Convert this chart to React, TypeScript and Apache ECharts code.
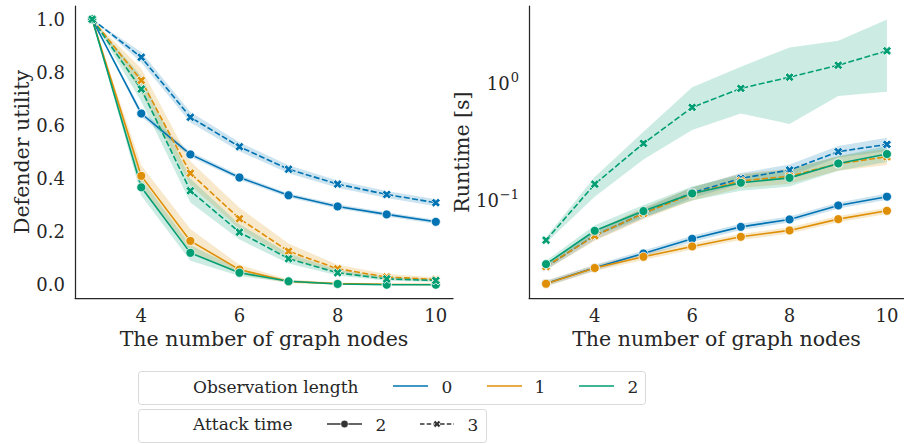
import React, { useEffect, useRef } from 'react';
import * as echarts from 'echarts';

// ---------- data ----------
const nodes = [3, 4, 5, 6, 7, 8, 9, 10];
const obsLengths = ['0', '1', '2'];
const attackTimes = ['2', '3'];
const xTicks = [4, 6, 8, 10];
const utilTicks = [0, 0.2, 0.4, 0.6, 0.8, 1.0];

// Defender utility (left) : mean / lower / upper
const util_o0_a2 = [1, 0.645, 0.491, 0.404, 0.337, 0.295, 0.265, 0.237];
const util_o0_a2_lo = [1, 0.633, 0.481, 0.395, 0.329, 0.287, 0.257, 0.229];
const util_o0_a2_hi = [1, 0.657, 0.501, 0.413, 0.345, 0.303, 0.273, 0.245];
const util_o0_a3 = [1, 0.857, 0.631, 0.52, 0.435, 0.379, 0.34, 0.309];
const util_o0_a3_lo = [1, 0.837, 0.611, 0.503, 0.42, 0.365, 0.327, 0.296];
const util_o0_a3_hi = [1, 0.877, 0.651, 0.537, 0.45, 0.393, 0.353, 0.322];
const util_o1_a2 = [1, 0.41, 0.165, 0.057, 0.012, 0.004, 0.002, 0.001];
const util_o1_a2_lo = [1, 0.37, 0.125, 0.04, 0.006, 0.001, 0, 0];
const util_o1_a2_hi = [1, 0.45, 0.21, 0.075, 0.02, 0.008, 0.005, 0.003];
const util_o1_a3 = [1, 0.77, 0.42, 0.249, 0.126, 0.06, 0.029, 0.02];
const util_o1_a3_lo = [1, 0.725, 0.375, 0.21, 0.1, 0.045, 0.02, 0.013];
const util_o1_a3_hi = [1, 0.815, 0.465, 0.29, 0.155, 0.075, 0.04, 0.028];
const util_o2_a2 = [1, 0.367, 0.12, 0.045, 0.013, 0.003, 0.0, 0.0];
const util_o2_a2_lo = [1, 0.335, 0.09, 0.033, 0.008, 0.001, 0, 0];
const util_o2_a2_hi = [1, 0.4, 0.15, 0.058, 0.018, 0.006, 0.002, 0.001];
const util_o2_a3 = [1, 0.737, 0.354, 0.198, 0.098, 0.045, 0.022, 0.016];
const util_o2_a3_lo = [1, 0.69, 0.31, 0.17, 0.08, 0.035, 0.015, 0.01];
const util_o2_a3_hi = [1, 0.785, 0.4, 0.228, 0.118, 0.056, 0.03, 0.022];

// Runtime [s] (right) : mean / lower / upper
const rt_o0_a2 = [0.0193, 0.0263, 0.0349, 0.0466, 0.059, 0.0683, 0.09, 0.107];
const rt_o0_a2_lo = [0.0183, 0.0248, 0.0328, 0.0438, 0.0555, 0.0643, 0.0848, 0.1005];
const rt_o0_a2_hi = [0.0204, 0.0279, 0.037, 0.0495, 0.0627, 0.0725, 0.0955, 0.1138];
const rt_o1_a2 = [0.0192, 0.0262, 0.0327, 0.0401, 0.0485, 0.055, 0.0687, 0.081];
const rt_o1_a2_lo = [0.0182, 0.0247, 0.0307, 0.0377, 0.0456, 0.0517, 0.0646, 0.0761];
const rt_o1_a2_hi = [0.0203, 0.0278, 0.0348, 0.0426, 0.0515, 0.0585, 0.073, 0.0862];
const rt_o2_a2 = [0.0283, 0.0546, 0.0805, 0.114, 0.1407, 0.155, 0.206, 0.248];
const rt_o2_a2_lo = [0.0265, 0.049, 0.071, 0.099, 0.12, 0.131, 0.178, 0.212];
const rt_o2_a2_hi = [0.0302, 0.061, 0.091, 0.131, 0.165, 0.183, 0.238, 0.29];
const rt_o0_a3 = [0.0268, 0.0498, 0.0769, 0.1156, 0.1535, 0.181, 0.26, 0.3];
const rt_o0_a3_lo = [0.0252, 0.0455, 0.07, 0.104, 0.138, 0.162, 0.232, 0.262];
const rt_o0_a3_hi = [0.0285, 0.0545, 0.0845, 0.128, 0.171, 0.202, 0.29, 0.342];
const rt_o1_a3 = [0.027, 0.0495, 0.077, 0.113, 0.146, 0.16, 0.205, 0.235];
const rt_o1_a3_lo = [0.0253, 0.0448, 0.0685, 0.099, 0.127, 0.138, 0.178, 0.2];
const rt_o1_a3_hi = [0.0288, 0.0545, 0.0865, 0.129, 0.168, 0.186, 0.237, 0.276];
const rt_o2_a3 = [0.0454, 0.137, 0.306, 0.623, 0.906, 1.13, 1.43, 1.9];
const rt_o2_a3_lo = [0.043, 0.107, 0.223, 0.398, 0.553, 0.448, 0.778, 0.848];
const rt_o2_a3_hi = [0.048, 0.158, 0.385, 0.924, 1.39, 2.03, 2.32, 3.53];

// ---------- style ----------
const colors = ['#0173b2', '#de8f05', '#029e73'];
const ink = '#262626';
const FONT = 'DejaVu Serif';
const X_PATH = 'path://M2.6,0 L5,2.4 L7.4,0 L10,2.6 L7.6,5 L10,7.4 L7.4,10 L5,7.6 L2.6,10 L0,7.4 L2.4,5 L0,2.6 Z';

function rgba(hex: string, a: number) {
  const n = parseInt(hex.slice(1), 16);
  return `rgba(${(n >> 16) & 255},${(n >> 8) & 255},${n & 255},${a})`;
}

type Group = { obs: number; att: number; mean: number[]; lo: number[]; hi: number[] };

const utilGroups: Group[] = [
  { obs: 0, att: 0, mean: util_o0_a2, lo: util_o0_a2_lo, hi: util_o0_a2_hi },
  { obs: 0, att: 1, mean: util_o0_a3, lo: util_o0_a3_lo, hi: util_o0_a3_hi },
  { obs: 1, att: 0, mean: util_o1_a2, lo: util_o1_a2_lo, hi: util_o1_a2_hi },
  { obs: 1, att: 1, mean: util_o1_a3, lo: util_o1_a3_lo, hi: util_o1_a3_hi },
  { obs: 2, att: 0, mean: util_o2_a2, lo: util_o2_a2_lo, hi: util_o2_a2_hi },
  { obs: 2, att: 1, mean: util_o2_a3, lo: util_o2_a3_lo, hi: util_o2_a3_hi },
];
const rtGroups: Group[] = [
  { obs: 0, att: 0, mean: rt_o0_a2, lo: rt_o0_a2_lo, hi: rt_o0_a2_hi },
  { obs: 0, att: 1, mean: rt_o0_a3, lo: rt_o0_a3_lo, hi: rt_o0_a3_hi },
  { obs: 1, att: 0, mean: rt_o1_a2, lo: rt_o1_a2_lo, hi: rt_o1_a2_hi },
  { obs: 1, att: 1, mean: rt_o1_a3, lo: rt_o1_a3_lo, hi: rt_o1_a3_hi },
  { obs: 2, att: 0, mean: rt_o2_a2, lo: rt_o2_a2_lo, hi: rt_o2_a2_hi },
  { obs: 2, att: 1, mean: rt_o2_a3, lo: rt_o2_a3_lo, hi: rt_o2_a3_hi },
];

function buildSeries(groups: Group[], gi: number) {
  const out: any[] = [];
  groups.forEach((g) => {
    const color = colors[g.obs];
    out.push({
      type: 'custom',
      xAxisIndex: gi,
      yAxisIndex: gi,
      silent: true,
      data: nodes.map((x, i) => [x, g.lo[i], g.hi[i]]),
      encode: { x: 0, y: [1, 2] },
      renderItem: (params: any, api: any) => {
        if (params.dataIndex !== 0) return null;
        const upper = nodes.map((x, i) => api.coord([x, g.hi[i]]));
        const lower = nodes.map((x, i) => api.coord([x, g.lo[i]])).reverse();
        return {
          type: 'polygon',
          shape: { points: upper.concat(lower) },
          style: { fill: rgba(color, 0.2), stroke: 'none' },
          silent: true,
        };
      },
    });
    out.push({
      type: 'line',
      name: `${obsLengths[g.obs]}-${attackTimes[g.att]}`,
      xAxisIndex: gi,
      yAxisIndex: gi,
      data: nodes.map((x, i) => [x, g.mean[i]]),
      symbol: g.att === 0 ? 'circle' : X_PATH,
      symbolSize: g.att === 0 ? 9 : 9,
      showSymbol: true,
      lineStyle: { color, width: 1.6, type: g.att === 0 ? 'solid' : [6, 2.4] },
      itemStyle: { color, borderColor: '#ffffff', borderWidth: 0.8 },
      silent: true,
    });
  });
  return out;
}

const tickFont = { fontFamily: FONT, fontSize: 18, color: ink };
const nameFont = { fontFamily: FONT, fontSize: 20.5, color: ink };

function xAxis(gi: number) {
  return {
    type: 'value',
    gridIndex: gi,
    min: 2.65,
    max: 10.35,
    name: 'The number of graph nodes',
    nameLocation: 'middle',
    nameGap: 29,
    nameTextStyle: nameFont,
    axisLine: { show: true, onZero: false, lineStyle: { color: ink, width: 1.25 } },
    axisTick: { show: false },
    splitLine: { show: false },
    axisLabel: { ...tickFont, margin: 8, customValues: xTicks, formatter: (v: number) => String(v) },
  };
}

function supExp(e: number) {
  return e < 0 ? '\u2212' + String(-e) : String(e);
}

export default function App() {
  const ref = useRef<HTMLDivElement>(null);
  useEffect(() => {
    if (!ref.current) return;
    const chart = echarts.init(ref.current, undefined, { renderer: 'svg' });

    const legendText = { fontFamily: FONT, fontSize: 17, fill: ink };
    const graphics: any[] = [
      { type: 'rect', shape: { x: 138.5, y: 371.5, width: 507, height: 33, r: 3 }, style: { fill: '#fff', stroke: '#d9d9d9', lineWidth: 1 } },
      { type: 'text', x: 193, y: 387, style: { ...legendText, text: 'Observation length', verticalAlign: 'middle', align: 'left' } },
      { type: 'rect', shape: { x: 138.5, y: 409.5, width: 348, height: 33, r: 3 }, style: { fill: '#fff', stroke: '#d9d9d9', lineWidth: 1 } },
      { type: 'text', x: 193, y: 424, style: { ...legendText, text: 'Attack time', verticalAlign: 'middle', align: 'left' } },
    ];
    const obsLineX = [393, 487, 579];
    const obsLabelX = [447, 540, 633];
    obsLengths.forEach((lab, i) => {
      graphics.push({ type: 'line', shape: { x1: obsLineX[i], y1: 386, x2: obsLineX[i] + 35, y2: 386 }, style: { stroke: colors[i], lineWidth: 1.6 } });
      graphics.push({ type: 'text', x: obsLabelX[i], y: 387, style: { ...legendText, text: lab, align: 'center', verticalAlign: 'middle' } });
    });
    // attack time legend
    graphics.push({ type: 'line', shape: { x1: 327, y1: 424, x2: 362, y2: 424 }, style: { stroke: '#333', lineWidth: 1.6 } });
    graphics.push({ type: 'circle', shape: { cx: 344.5, cy: 424, r: 3.8 }, style: { fill: '#333', stroke: '#fff', lineWidth: 0.6 } });
    graphics.push({ type: 'text', x: 381, y: 425, style: { ...legendText, text: attackTimes[0], align: 'center', verticalAlign: 'middle' } });
    graphics.push({ type: 'line', shape: { x1: 420, y1: 424, x2: 454, y2: 424 }, style: { stroke: '#333', lineWidth: 1.6, lineDash: [4.5, 2.2] } });
    const cx = 437, cy = 424, s = 3.6;
    const xs = [[-0.48, -1], [0, -0.52], [0.48, -1], [1, -0.48], [0.52, 0], [1, 0.48], [0.48, 1], [0, 0.52], [-0.48, 1], [-1, 0.48], [-0.52, 0], [-1, -0.48]];
    graphics.push({ type: 'polygon', shape: { points: xs.map(([a, b]) => [cx + a * s, cy + b * s]) }, style: { fill: '#333', stroke: '#fff', lineWidth: 0.6 } });
    graphics.push({ type: 'text', x: 473, y: 425, style: { ...legendText, text: attackTimes[1], align: 'center', verticalAlign: 'middle' } });

    const option: any = {
      animation: false,
      backgroundColor: '#ffffff',
      grid: [
        { left: 75, top: 6, width: 378, height: 292 },
        { left: 529, top: 6, width: 378, height: 292 },
      ],
      xAxis: [xAxis(0), xAxis(1)],
      yAxis: [
        {
          type: 'value',
          gridIndex: 0,
          min: -0.05,
          max: 1.05,
          name: 'Defender utility',
          nameLocation: 'middle',
          nameGap: 43,
          nameTextStyle: nameFont,
          axisLine: { show: true, onZero: false, lineStyle: { color: ink, width: 1.25 } },
          axisTick: { show: false },
          splitLine: { show: false },
          axisLabel: { ...tickFont, margin: 10, customValues: utilTicks, formatter: (v: number) => v.toFixed(1) },
        },
        {
          type: 'log',
          logBase: 10,
          gridIndex: 1,
          min: 0.0145,
          max: 4.6,
          name: 'Runtime [s]',
          nameLocation: 'middle',
          nameGap: 56,
          nameTextStyle: nameFont,
          axisLine: { show: true, onZero: false, lineStyle: { color: ink, width: 1.25 } },
          axisTick: { show: false },
          splitLine: { show: false },
          minorTick: { show: false },
          minorSplitLine: { show: false },
          axisLabel: {
            margin: 10,
            showMinLabel: false,
            showMaxLabel: false,
            formatter: (v: number) => {
              const e = Math.log10(v);
              const r = Math.round(e);
              if (Math.abs(e - r) > 1e-6) return '';
              return `{b|10}{s|${supExp(r)}}`;
            },
            rich: {
              b: { fontFamily: FONT, fontSize: 18, color: ink, lineHeight: 22 },
              s: { fontFamily: FONT, fontSize: 13, color: ink, lineHeight: 13, padding: [0, 0, 12, 1] },
            },
          },
        },
      ],
      series: [...buildSeries(utilGroups, 0), ...buildSeries(rtGroups, 1)],
      graphic: graphics,
    };
    chart.setOption(option);
    return () => chart.dispose();
  }, []);
  return <div ref={ref} style={{ position: 'absolute', left: 0, top: 0, width: 904, height: 444 }} />;
}
